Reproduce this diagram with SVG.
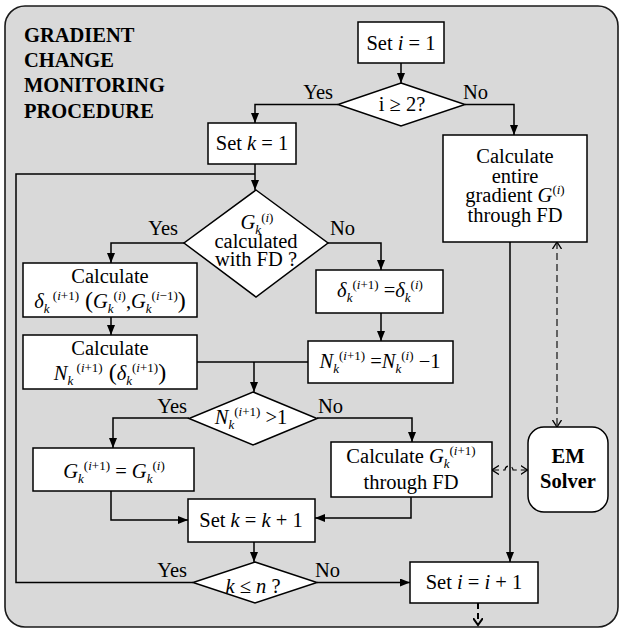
<svg xmlns="http://www.w3.org/2000/svg" width="622" height="629" viewBox="0 0 622 629">
<defs>
<style>
text{font-family:'Liberation Serif','DejaVu Serif',serif;font-size:20.5px;fill:#000}
.b{font-weight:bold}
.i{font-style:italic}
.s{font-size:13px;font-style:italic}
.u{font-size:13px}
.box{fill:#fff;stroke:#000;stroke-width:1.5}
.ln{fill:none;stroke:#000;stroke-width:1.5}
.dl{fill:none;stroke:#000;stroke-width:1.1;stroke-dasharray:7,4}
</style>
<marker id="ah" viewBox="0 0 10 8" markerWidth="10" markerHeight="8" refX="10" refY="4" orient="auto" markerUnits="userSpaceOnUse"><path d="M0,0 L10,4 L0,8 z" fill="#000"/></marker>
<marker id="oh" viewBox="0 0 8 10" markerWidth="8" markerHeight="10" refX="7" refY="5" orient="auto-start-reverse" markerUnits="userSpaceOnUse"><path d="M0,0.5 L7,5 L0,9.5" fill="none" stroke="#000" stroke-width="1.3"/></marker>
<marker id="oh2" viewBox="0 0 12 10" markerWidth="12" markerHeight="10" refX="7" refY="5" orient="auto" markerUnits="userSpaceOnUse"><path d="M0,0 L7,5 L0,10" fill="none" stroke="#000" stroke-width="2"/></marker>
</defs>
<rect x="5" y="6" width="613" height="621" rx="20" ry="20" fill="#d9d9d9" stroke="#1a1a1a" stroke-width="1.6"/>
<g id="title" font-family="Liberation Serif, serif">
<text class="b" x="24" y="42" font-size="21">GRADIENT</text>
<text class="b" x="24" y="67" font-size="21">CHANGE</text>
<text class="b" x="24" y="92" font-size="21">MONITORING</text>
<text class="b" x="24" y="118" font-size="21">PROCEDURE</text>
</g>
<g id="connectors">
<path class="ln" d="M401,63 V83" marker-end="url(#ah)"/>
<path class="ln" d="M338,104.5 H255 V123" marker-end="url(#ah)"/>
<path class="ln" d="M465,104.5 H514 V135" marker-end="url(#ah)"/>
<path class="ln" d="M255,164 V190" marker-end="url(#ah)"/>
<path class="ln" d="M193,582.5 H16 V174 H255"/>
<path class="ln" d="M184,243 H111 V263" marker-end="url(#ah)"/>
<path class="ln" d="M328,243 H381 V270" marker-end="url(#ah)"/>
<path class="ln" d="M111,317 V335" marker-end="url(#ah)"/>
<path class="ln" d="M381,313 V341" marker-end="url(#ah)"/>
<path class="ln" d="M197,362 H308"/>
<path class="ln" d="M254,362 V392" marker-end="url(#ah)"/>
<path class="ln" d="M189,418 H113 V448" marker-end="url(#ah)"/>
<path class="ln" d="M317,418 H412 V442" marker-end="url(#ah)"/>
<path class="ln" d="M111,491 V520 H188" marker-end="url(#ah)"/>
<path class="ln" d="M411,497 V518 H315" marker-end="url(#ah)"/>
<path class="ln" d="M254,542 V562" marker-end="url(#ah)"/>
<path class="ln" d="M317,582.5 H410" marker-end="url(#ah)"/>
<path class="ln" d="M510,242 V562" marker-end="url(#ah)"/>
<path class="dl" d="M557,242 V427" marker-start="url(#oh)" marker-end="url(#oh)"/>
<path class="dl" d="M492,470 H505 A4,4 0 0 1 513,470 H527.5" stroke-dasharray="5,4" marker-start="url(#oh)" marker-end="url(#oh)"/>
<path d="M478,603 V625" fill="none" stroke="#000" stroke-width="2" stroke-dasharray="6,4" marker-end="url(#oh2)"/>
</g>
<g id="labels">
<text x="333" y="99" text-anchor="end">Yes</text>
<text x="463" y="99">No</text>
<text x="178" y="235" text-anchor="end">Yes</text>
<text x="330" y="235">No</text>
<text x="187" y="413" text-anchor="end">Yes</text>
<text x="318" y="413">No</text>
<text x="187" y="577" text-anchor="end">Yes</text>
<text x="315" y="577">No</text>
</g>
<g id="set-i-1">
<rect class="box" x="358" y="22" width="86" height="41"/>
<text x="401" y="50" text-anchor="middle">Set <tspan class="i">i</tspan> = 1</text>
</g>
<g id="dec-i-ge-2">
<polygon class="box" points="401,83 465,104.5 401,126 338,104.5"/>
<text x="402" y="111" text-anchor="middle">i ≥ 2?</text>
</g>
<g id="set-k-1">
<rect class="box" x="208" y="123" width="88" height="41"/>
<text x="252" y="150" text-anchor="middle">Set <tspan class="i">k</tspan> = 1</text>
</g>
<g id="calc-entire">
<rect class="box" x="443" y="135" width="144" height="107"/>
<text x="515" y="163" text-anchor="middle">Calculate</text>
<text x="515" y="183" text-anchor="middle">entire</text>
<text x="515" y="202" text-anchor="middle">gradient <tspan class="i">G</tspan><tspan class="u" dy="-8">(<tspan class="i">i</tspan>)</tspan></text>
<text x="515" y="222" text-anchor="middle">through FD</text>
</g>
<g id="dec-fd">
<polygon class="box" points="256,190 328,243 256,297 184,243"/>
<text x="257" y="229" text-anchor="middle"><tspan class="i">G</tspan><tspan class="s" dy="5">k</tspan><tspan class="u" dy="-12">(<tspan class="i">i</tspan>)</tspan></text>
<text x="256" y="248" text-anchor="middle">calculated</text>
<text x="256" y="266" text-anchor="middle">with FD ?</text>
</g>
<g id="calc-delta">
<rect class="box" x="23" y="263" width="174" height="54"/>
<text x="110" y="283" text-anchor="middle">Calculate</text>
<text x="110" y="308" text-anchor="middle"><tspan class="i">δ</tspan><tspan class="s" dy="5">k</tspan><tspan class="u" dy="-13"> (<tspan class="i">i</tspan>+1)</tspan><tspan font-size="24" dy="8"> (</tspan><tspan class="i">G</tspan><tspan class="s" dy="5">k</tspan><tspan class="u" dy="-13">(<tspan class="i">i</tspan>)</tspan><tspan dy="8">,</tspan><tspan class="i">G</tspan><tspan class="s" dy="5">k</tspan><tspan class="u" dy="-13">(<tspan class="i">i</tspan>−1)</tspan><tspan font-size="24" dy="8">)</tspan></text>
</g>
<g id="calc-n">
<rect class="box" x="23" y="335" width="174" height="54"/>
<text x="110" y="355" text-anchor="middle">Calculate</text>
<text x="110" y="380" text-anchor="middle"><tspan class="i">N</tspan><tspan class="s" dy="5">k</tspan><tspan class="u" dy="-13"> (<tspan class="i">i</tspan>+1)</tspan><tspan font-size="24" dy="8"> (</tspan><tspan class="i">δ</tspan><tspan class="s" dy="5">k</tspan><tspan class="u" dy="-13">(<tspan class="i">i</tspan>+1)</tspan><tspan font-size="24" dy="8">)</tspan></text>
</g>
<g id="delta-eq">
<rect class="box" x="316" y="270" width="127" height="43"/>
<text x="380" y="297" text-anchor="middle"><tspan class="i">δ</tspan><tspan class="s" dy="5">k</tspan><tspan class="u" dy="-13">(<tspan class="i">i</tspan>+1)</tspan><tspan dy="8"> =</tspan><tspan class="i">δ</tspan><tspan class="s" dy="5">k</tspan><tspan class="u" dy="-13">(<tspan class="i">i</tspan>)</tspan></text>
</g>
<g id="n-dec">
<rect class="box" x="308" y="341" width="145" height="42"/>
<text x="380" y="368" text-anchor="middle"><tspan class="i">N</tspan><tspan class="s" dy="5">k</tspan><tspan class="u" dy="-13">(<tspan class="i">i</tspan>+1)</tspan><tspan dy="8"> =</tspan><tspan class="i">N</tspan><tspan class="s" dy="5">k</tspan><tspan class="u" dy="-13">(<tspan class="i">i</tspan>)</tspan><tspan dy="8"> −1</tspan></text>
</g>
<g id="dec-n">
<polygon class="box" points="253,392 317,418.5 253,445 189,418.5"/>
<text x="251" y="424" text-anchor="middle"><tspan class="i">N</tspan><tspan class="s" dy="5">k</tspan><tspan class="u" dy="-13">(<tspan class="i">i</tspan>+1)</tspan><tspan dy="8"> &gt;1</tspan></text>
</g>
<g id="g-keep">
<rect class="box" x="33" y="448" width="161" height="43"/>
<text x="114" y="478" text-anchor="middle"><tspan class="i">G</tspan><tspan class="s" dy="5">k</tspan><tspan class="u" dy="-13">(<tspan class="i">i</tspan>+1)</tspan><tspan dy="8"> = </tspan><tspan class="i">G</tspan><tspan class="s" dy="5">k</tspan><tspan class="u" dy="-13">(<tspan class="i">i</tspan>)</tspan></text>
</g>
<g id="calc-gk">
<rect class="box" x="331" y="442" width="161" height="55"/>
<text x="411" y="463" text-anchor="middle">Calculate <tspan class="i">G</tspan><tspan class="s" dy="5">k</tspan><tspan class="u" dy="-13">(<tspan class="i">i</tspan>+1)</tspan></text>
<text x="411" y="489" text-anchor="middle">through FD</text>
</g>
<g id="set-k-inc">
<rect class="box" x="188" y="499" width="127" height="43"/>
<text x="251" y="527" text-anchor="middle">Set <tspan class="i">k</tspan> = <tspan class="i">k</tspan> + 1</text>
</g>
<g id="dec-k-n">
<polygon class="box" points="255,562 317,582.5 255,603 193,582.5"/>
<text x="253" y="593" text-anchor="middle"><tspan class="i">k</tspan> ≤ <tspan class="i">n</tspan> ?</text>
</g>
<g id="em-solver">
<rect class="box" x="528" y="427" width="80" height="85" rx="16" ry="16"/>
<text class="b" x="568" y="463" text-anchor="middle">EM</text>
<text class="b" x="568" y="488" text-anchor="middle">Solver</text>
</g>
<g id="set-i-inc">
<rect class="box" x="410" y="562" width="128" height="41"/>
<text x="474" y="589" text-anchor="middle">Set <tspan class="i">i</tspan> = <tspan class="i">i</tspan> + 1</text>
</g>
</svg>
